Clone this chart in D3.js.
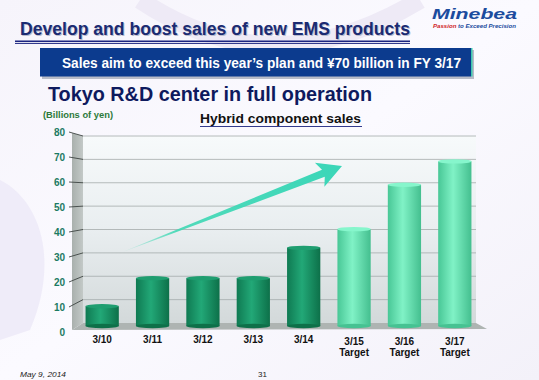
<!DOCTYPE html>
<html>
<head>
<meta charset="utf-8">
<script src="https://cdn.jsdelivr.net/npm/d3@7"></script>
<style>
  body { margin: 0; background: #fff; }
  svg { display: block; font-family: "Liberation Sans", Arial, sans-serif; }
</style>
</head>
<body>
<div id="slide"></div>
<script>
// ==================================================
// DATA
// ==================================================
var categories = ["3/10", "3/11", "3/12", "3/13", "3/14", "3/15", "3/16", "3/17"];
var subLabels  = ["", "", "", "", "", "Target", "Target", "Target"];
var sales      = [8, 20, 20, 20, 33, 41, 60, 70];
var isTarget   = [false, false, false, false, false, true, true, true];
var yTicks     = [0, 10, 20, 30, 40, 50, 60, 70, 80];

// ==================================================
// CANVAS
// ==================================================
var W = 539, H = 380;
var svg = d3.select("#slide").append("svg")
  .attr("width", W).attr("height", H);
var defs = svg.append("defs");

function linGrad(id, x2, y2, stops) {
  var g = defs.append("linearGradient").attr("id", id)
    .attr("x1", 0).attr("y1", 0).attr("x2", x2).attr("y2", y2);
  stops.forEach(function(s) {
    g.append("stop").attr("offset", s[0]).attr("stop-color", s[1])
      .attr("stop-opacity", s[2] == null ? 1 : s[2]);
  });
}

// Text that is stretched to the width it has in the slide
function fitText(sel, len) {
  return sel.attr("textLength", len).attr("lengthAdjust", "spacingAndGlyphs");
}

linGrad("bg", 1, 1, [[0, "#f6f4fb"], [0.5, "#fbfaff"], [1, "#f3f1f9"]]);
linGrad("wall", 0, 1, [[0, "#f7fafb"], [0.5, "#e9eef0"], [1, "#d3d9da"]]);
linGrad("side", 1, 0, [[0, "#a9b0ad"], [1, "#c3c9c7"]]);
linGrad("darkBar", 1, 0, [[0, "#0f7a52"], [0.45, "#22a877"], [1, "#0d7049"]]);
linGrad("lightBar", 1, 0, [[0, "#48c796"], [0.45, "#80f2c6"], [1, "#44bf8f"]]);
linGrad("arrowFade", 1, 0, [[0, "#40d8b4", 0], [0.25, "#40d8b4", 0.9], [1, "#3ad6b8"]]);

// Background
svg.append("rect").attr("width", W).attr("height", H).attr("fill", "url(#bg)");
svg.append("path")
  .attr("d", "M0,180 C40,200 60,260 30,330 L0,340 Z")
  .attr("fill", "#ece8f7").attr("opacity", 0.8);
svg.append("path")
  .attr("d", "M140,0 C230,60 320,60 420,0")
  .attr("fill", "none").attr("stroke", "#eeeaf6").attr("stroke-width", 18);

// ==================================================
// HEADER
// ==================================================
fitText(svg.append("text")
  .attr("x", 21).attr("y", 36)
  .attr("font-size", 17.5).attr("font-weight", "bold").attr("fill", "#b9bccd")
  .text("Develop and boost sales of new EMS products"), 390);
fitText(svg.append("text")
  .attr("x", 20).attr("y", 35)
  .attr("font-size", 17.5).attr("font-weight", "bold").attr("fill", "#1b2b72")
  .text("Develop and boost sales of new EMS products"), 390);
svg.append("rect").attr("x", 15).attr("y", 40.5).attr("width", 395).attr("height", 1.6).attr("fill", "#1b2480");
svg.append("rect").attr("x", 15).attr("y", 43).attr("width", 395).attr("height", 0.9).attr("fill", "#1b2480");

// Logo
fitText(svg.append("text")
  .attr("x", 432).attr("y", 19)
  .attr("font-size", 15.5).attr("font-weight", "bold").attr("font-style", "italic")
  .attr("fill", "#1c4c9e")
  .text("Minebea"), 85);
var tag = fitText(svg.append("text")
  .attr("x", 433).attr("y", 27.5)
  .attr("font-size", 5).attr("font-weight", "bold").attr("font-style", "italic"), 83);
tag.append("tspan").attr("fill", "#d0251f").text("Passion");
tag.append("tspan").attr("fill", "#1c4c9e").text(" to Exceed Precision");

// Banner
svg.append("rect").attr("x", 42).attr("y", 50).attr("width", 432).attr("height", 29).attr("fill", "#b8bcc8");
svg.append("rect").attr("x", 40).attr("y", 48).attr("width", 431).attr("height", 28.5).attr("fill", "#0c3b8e");
svg.append("rect").attr("x", 471).attr("y", 48).attr("width", 1.5).attr("height", 28.5).attr("fill", "#3ec8b0");
fitText(svg.append("text")
  .attr("x", 62).attr("y", 67.5)
  .attr("font-size", 13.8).attr("font-weight", "bold").attr("fill", "#ffffff")
  .text("Sales aim to exceed this year\u2019s plan and \u00a570 billion in FY 3/17"), 399);

fitText(svg.append("text")
  .attr("x", 48).attr("y", 101)
  .attr("font-size", 20).attr("font-weight", "bold").attr("fill", "#0e1a5e")
  .text("Tokyo R&D center in full operation"), 324);

fitText(svg.append("text")
  .attr("x", 43).attr("y", 118)
  .attr("font-size", 8.5).attr("font-weight", "bold").attr("fill", "#2d7a3a")
  .text("(Billions of yen)"), 70);

fitText(svg.append("text")
  .attr("x", 200).attr("y", 123)
  .attr("font-size", 13).attr("font-weight", "bold").attr("fill", "#111")
  .text("Hybrid component sales"), 161);
svg.append("rect").attr("x", 200).attr("y", 126).attr("width", 162).attr("height", 0.9).attr("fill", "#1b2480");

// ==================================================
// CHART
// ==================================================
var frontL = 72, backL = 83, backR = 476, frontR = 487;
var floorBack = 323, floorFront = 329;

var yBack = d3.scaleLinear().domain([0, 80]).range([floorBack, 136]);
var yFront = d3.scaleLinear().domain([0, 80]).range([332, 132]);
var x = d3.scaleBand().domain(categories).range([77, 480])
  .paddingInner(0.34).paddingOuter(0.17);

var chart = svg.append("g");

// Back wall
chart.append("rect")
  .attr("x", backL).attr("y", yBack(80))
  .attr("width", backR - backL).attr("height", floorBack - yBack(80))
  .attr("fill", "url(#wall)");

// Side wall
chart.append("polygon")
  .attr("points", [[frontL, yBack(80) - 3], [backL, yBack(80)], [backL, floorBack], [frontL, floorFront + 1]].join(" "))
  .attr("fill", "url(#side)");

// Floor
chart.append("polygon")
  .attr("points", [[frontL, floorFront + 1], [backL, floorBack], [backR, floorBack], [frontR, floorFront]].join(" "))
  .attr("fill", "#aeb4b2");

// Grid lines
chart.selectAll(".grid").data(yTicks.filter(function(d) { return d > 0; }))
  .enter().append("line")
    .attr("class", "grid")
    .attr("x1", backL).attr("x2", backR)
    .attr("y1", function(d) { return yBack(d); })
    .attr("y2", function(d) { return yBack(d); })
    .attr("stroke", "#a4abab").attr("stroke-width", 0.8);

// Slanted tick marks on the side wall
chart.selectAll(".tick-mark").data(yTicks.filter(function(d) { return d > 0; }))
  .enter().append("line")
    .attr("class", "tick-mark")
    .attr("x1", 69).attr("x2", backL)
    .attr("y1", function(d) { return yFront(d); })
    .attr("y2", function(d) { return yBack(d); })
    .attr("stroke", "#3d4442").attr("stroke-width", 0.9);

// Y labels
chart.selectAll(".ylab").data(yTicks)
  .enter().append("text")
    .attr("class", "ylab")
    .attr("x", 65).attr("y", function(d) { return yFront(d) + 3.5; })
    .attr("text-anchor", "end")
    .attr("font-size", 10).attr("font-weight", "bold").attr("fill", "#1c7a62")
    .text(function(d) { return d; });

// Arrow
var tail = [120, 253], tip = [342, 166];
var ang = Math.atan2(tip[1] - tail[1], tip[0] - tail[0]);
var len = Math.hypot(tip[0] - tail[0], tip[1] - tail[1]);
var arrow = chart.append("g")
  .attr("transform", "translate(" + tail[0] + "," + tail[1] + ") rotate(" + (ang * 180 / Math.PI) + ")");
arrow.append("path")
  .attr("d", "M0,0 L" + (len - 20) + ",-3.8 L" + (len - 24) + ",-13 L" + len + ",0 L" + (len - 24) + ",13 L" + (len - 20) + ",3.8 Z")
  .attr("fill", "url(#arrowFade)");

// Bars (cylinders)
var bars = chart.selectAll(".bar").data(sales)
  .enter().append("g").attr("class", "bar");

bars.append("rect")
  .attr("x", function(d, i) { return x(categories[i]); })
  .attr("y", function(d) { return yBack(d) + 2; })
  .attr("width", x.bandwidth())
  .attr("height", function(d) { return floorFront - 3 - yBack(d) - 2; })
  .attr("fill", function(d, i) { return isTarget[i] ? "url(#lightBar)" : "url(#darkBar)"; });

bars.append("ellipse")
  .attr("cx", function(d, i) { return x(categories[i]) + x.bandwidth() / 2; })
  .attr("cy", floorFront - 3)
  .attr("rx", x.bandwidth() / 2).attr("ry", 2.2)
  .attr("fill", function(d, i) { return isTarget[i] ? "#46c292" : "#0e7049"; });

bars.append("ellipse")
  .attr("cx", function(d, i) { return x(categories[i]) + x.bandwidth() / 2; })
  .attr("cy", function(d) { return yBack(d) + 2; })
  .attr("rx", x.bandwidth() / 2).attr("ry", 2.2)
  .attr("fill", function(d, i) { return isTarget[i] ? "#86f6cc" : "#1f9e70"; });

// X labels
var xl = chart.selectAll(".xlab").data(categories)
  .enter().append("text")
    .attr("class", "xlab")
    .attr("text-anchor", "middle")
    .attr("font-size", 10).attr("font-weight", "bold").attr("fill", "#111");
xl.append("tspan")
  .attr("x", function(d) { return x(d) + x.bandwidth() / 2; })
  .attr("y", function(d, i) { return subLabels[i] ? 345 : 343; })
  .text(function(d) { return d; });
xl.append("tspan")
  .attr("x", function(d) { return x(d) + x.bandwidth() / 2; })
  .attr("y", 356)
  .text(function(d, i) { return subLabels[i]; });

// ==================================================
// FOOTER
// ==================================================
fitText(svg.append("text")
  .attr("x", 20).attr("y", 377)
  .attr("font-size", 7.5).attr("font-style", "italic").attr("fill", "#222")
  .text("May 9, 2014"), 46);
svg.append("text")
  .attr("x", 258).attr("y", 377)
  .attr("font-size", 8).attr("fill", "#222")
  .text("31");
</script>
</body>
</html>
